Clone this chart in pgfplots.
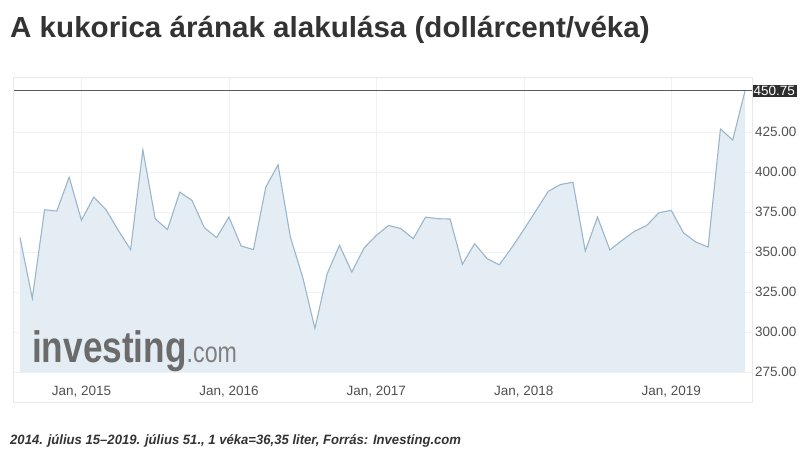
\documentclass[border=0pt]{standalone}
\usepackage{pgfplots}
\pgfplotsset{compat=1.18}
\usepgfplotslibrary{fillbetween}
\usepackage{fontspec}
\setmainfont{Liberation Sans}
\newfontfamily\titlefont[FakeStretch=1.02]{Liberation Sans}
\newfontfamily\notefont[FakeStretch=0.97]{Liberation Sans}
\newfontfamily\logofont[FakeStretch=0.8]{Liberation Sans}

\definecolor{linec}{RGB}{155,182,204}
\definecolor{fillc}{RGB}{229,237,244}
\definecolor{gridc}{RGB}{238,242,245}
\definecolor{textc}{RGB}{51,51,51}
\definecolor{tickc}{RGB}{80,80,80}

% monthly closing price, x = months since Jan 2015
\pgfplotstableread{
m price
-5 359
-4 321
-3 376.4
-2 375.6
-1 396.8
0 369.8
1 384.3
2 376.4
3 363.5
4 351.5
5 413.8
6 370.8
7 364
8 387.4
9 382.2
10 365.2
11 359
12 371.8
13 353.7
14 351.5
15 390.5
16 404.5
17 359.4
18 334.4
19 302.2
20 336.5
21 354.2
22 337.5
23 352.5
24 360.4
25 366.6
26 364.6
27 358.3
28 371.8
29 370.8
30 370.6
31 342.3
32 355.2
33 345.9
34 342.0
35 352.5
36 364
37 376
38 388
39 392.2
40 393.6
41 350.6
42 371.8
43 351.3
44 357.3
45 362.9
46 366.6
47 374.6
48 376
49 361.9
50 356.2
51 353.1
52 426.9
53 420
54 450.75
}\corn

\begin{document}
\begin{tikzpicture}
\begin{axis}[
    scale only axis,
    width=739pt, height=295.2pt,
    xmin=-5.57, xmax=54.57,
    ymin=275, ymax=459.5,
    clip=false,
    axis line style={draw=none},
    major tick length=0pt,
    grid=major,
    major grid style={color=gridc, line width=0.6pt},
    xtick={0,12,24,36,48},
    xticklabels={{Jan, 2015},{Jan, 2016},{Jan, 2017},{Jan, 2018},{Jan, 2019}},
    xticklabel style={yshift=-11pt},
    ytick={275,300,...,425},
    yticklabel pos=right,
    yticklabel style={anchor=west, inner sep=3pt,
        /pgf/number format/fixed, /pgf/number format/fixed zerofill,
        /pgf/number format/precision=2},
    /pgf/number format/assume math mode=true,
    ticklabel style={font=\fontsize{13.5}{13.5}\selectfont, text=tickc},
    extra y ticks={450.75},
    extra y tick style={grid=none,
        yticklabel style={fill=black!82, text=white, inner sep=1.5pt, anchor=west}},
]
\addplot[draw=none, name path=price, forget plot] table[x=m, y=price] {\corn};
\addplot[draw=none, name path=base, forget plot] coordinates {(-5,275) (54,275)};
\addplot[fill=fillc, draw=none] fill between[of=price and base];
\addplot[color=linec, line width=1.1pt] table[x=m, y=price] {\corn};
\addplot[color=black!65, line width=0.8pt] coordinates {(-5.57,450.75) (54.57,450.75)};
\draw[black!9] ([yshift=-30pt]rel axis cs:0,0) rectangle (rel axis cs:1,1);
\node[anchor=base west, text=black!58, inner sep=0pt]
    at ([xshift=19pt,yshift=9pt]rel axis cs:0,0)
    {\logofont\fontsize{44}{44}\selectfont\bfseries investing{\fontsize{29}{29}\selectfont\mdseries\color{black!50}.com}};
\end{axis}
\node[anchor=west, text=textc, inner sep=0pt] at (-3pt,342pt)
    {\titlefont\fontsize{29}{29}\selectfont\bfseries A kukorica árának alakulása (dollárcent/véka)};
\node[anchor=west, text=textc, inner sep=0pt] at (-3pt,-69pt)
    {\notefont\fontsize{13.5}{13.5}\selectfont\bfseries\itshape 2014. július 15–2019. július 51., 1 véka=36,35 liter, Forrás: Investing.com};
\path (-13pt,-88pt) rectangle (796pt,372pt);
\end{tikzpicture}
\end{document}
